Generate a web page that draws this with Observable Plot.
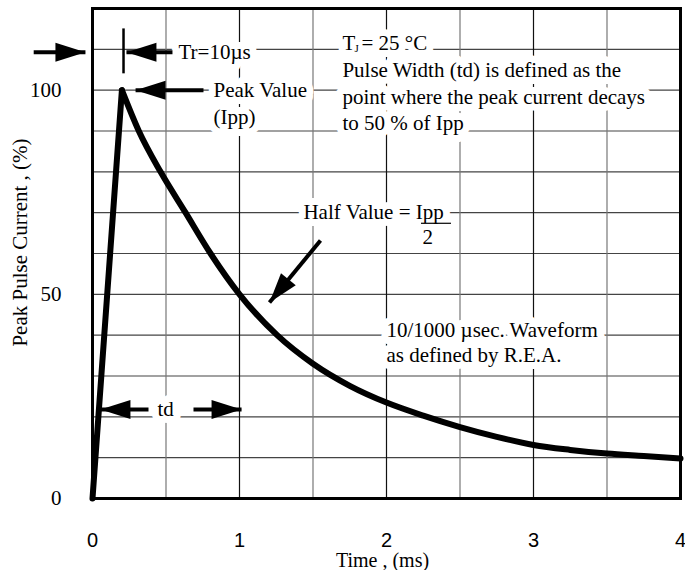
<!DOCTYPE html>
<html>
<head>
<meta charset="utf-8">
<script src="https://cdn.jsdelivr.net/npm/d3@7"></script>
<script src="https://cdn.jsdelivr.net/npm/@observablehq/plot@0.6"></script>
<style>
  html, body { margin: 0; padding: 0; background: #fff; }
</style>
</head>
<body>
<div id="chart"></div>
<script>
// ---- data ----
const riseTime = [0, 0.2];
const riseValue = [0, 100];
const decayTime = [0.2, 0.315, 0.463, 0.633, 0.803, 1.0, 1.256, 1.5, 1.75, 2.0, 2.25, 2.5, 2.75, 3.0, 3.25, 3.5, 3.75, 4.0];
const decayValue = [100, 90, 80, 70, 60, 50, 40, 33.0, 27.6, 23.5, 20.3, 17.5, 15.1, 13.1, 11.9, 11.0, 10.4, 9.8];

const xTicks = [0, 1, 2, 3, 4];
const yTicks = [0, 50, 100];
const xGridMajor = [1, 2, 3];
const xGridMinor = [0.5, 1.5, 2.5, 3.5];
const yGrid = [10, 20, 30, 40, 50, 60, 70, 80, 90, 100, 110];

const xLabel = "Time , (ms)";
const yLabel = "Peak Pulse Current , (%)";

// annotation texts (data coordinates)
const noteText = ["Tr=10µs", "Peak Value", "(Ipp)",
  "Pulse Width (td) is defined as the", "point where the peak current decays", "to 50 % of Ipp",
  "Half Value = Ipp", "10/1000 µsec. Waveform", "as defined by R.E.A."];
const noteX = [0.585, 0.823, 0.823, 1.70, 1.70, 1.70, 1.435, 2.0, 2.0];
const noteY = [109.3, 100, 93.4, 104.9, 98.3, 91.9, 70.1, 41.2, 35.0];
const centerText = ["2", "td"];
const centerX = [2.28, 0.497];
const centerY = [64.0, 21.8];

// arrows: shaft start -> tip, head rotation (deg, 0 = pointing up)
const arrowFromX = [-0.40, 0.544, 0.755, 1.551, 0.381, 0.687];
const arrowFromY = [109.3, 109.3, 100, 63.2, 21.8, 21.8];
const arrowToX = [-0.048, 0.231, 0.293, 1.204, 0.054, 1.014];
const arrowToY = [109.3, 109.3, 100, 48.0, 21.8, 21.8];
const arrowRot = [90, 270, 270, 219, 270, 90];

// ---- build tables ----
const rise = riseTime.map((t, i) => ({t, v: riseValue[i]}));
const decay = decayTime.map((t, i) => ({t, v: decayValue[i]}));
const notes = noteText.map((s, i) => ({s, x: noteX[i], y: noteY[i]}));
const centers = centerText.map((s, i) => ({s, x: centerX[i], y: centerY[i]}));
const arrows = arrowFromX.map((x1, i) => ({x1, y1: arrowFromY[i], x2: arrowToX[i], y2: arrowToY[i], r: arrowRot[i]}));

const headSymbol = {
  draw(ctx) {
    ctx.moveTo(0, 0);
    ctx.lineTo(9.5, 30);
    ctx.lineTo(-9.5, 30);
    ctx.closePath();
  }
};

const serif = "'Liberation Serif', 'Times New Roman', serif";
const sans = "'Liberation Sans', Arial, sans-serif";
const halo = {stroke: "white", strokeWidth: 14, strokeLinejoin: "round", fill: "black", fontFamily: serif, fontSize: 21};

const chart = Plot.plot({
  width: 685,
  height: 570,
  marginLeft: 92,
  marginRight: 5,
  marginTop: 8,
  marginBottom: 72,
  x: {domain: [0, 4]},
  y: {domain: [0, 120]},
  style: {background: "white", color: "black"},
  marks: [
    Plot.ruleY(yGrid, {stroke: "#444", strokeWidth: 1.2}),
    Plot.ruleX(xGridMinor, {stroke: "#777", strokeWidth: 1.2}),
    Plot.ruleX(xGridMajor, {stroke: "#111", strokeWidth: 1.2}),
    Plot.axisX(xTicks, {tickSize: 0, tickPadding: 34, fontSize: 20, fontFamily: sans, tickFormat: d => String(d), label: null}),
    Plot.axisY(yTicks, {tickSize: 0, tickPadding: 31, fontSize: 21, fontFamily: serif, tickFormat: d => String(d), label: null}),
    Plot.text([xLabel], {frameAnchor: "bottom", lineAnchor: "middle", textAnchor: "middle", dy: 62, dx: -4, fontFamily: serif, fontSize: 20, fill: "black"}),
    Plot.text([yLabel], {frameAnchor: "left", lineAnchor: "middle", textAnchor: "middle", rotate: -90, dx: -72, dy: -11, fontFamily: serif, fontSize: 21, fill: "black"}),
    // annotations
    Plot.text(notes, {x: "x", y: "y", text: "s", textAnchor: "start", ...halo}),
    Plot.text(["T"], {x: [1.70], y: [111.5], textAnchor: "start", ...halo}),
    Plot.text(["= 25 °C"], {x: [1.70], y: [111.5], dx: 19, textAnchor: "start", ...halo}),
    Plot.text(["J"], {x: [1.70], y: [111.5], dx: 12, dy: 5, textAnchor: "start", fontFamily: serif, fontSize: 11, fill: "black"}),
    Plot.text(centers, {x: "x", y: "y", text: "s", textAnchor: "middle", ...halo}),
    Plot.ruleY([67.4], {x1: 2.238, x2: 2.442, stroke: "black", strokeWidth: 1.2}),
    Plot.link(arrows, {x1: "x1", y1: "y1", x2: "x2", y2: "y2", stroke: "black", strokeWidth: 4}),
    Plot.dot(arrows, {x: "x2", y: "y2", rotate: "r", symbol: headSymbol, r: 10, fill: "black", stroke: "none"}),
    Plot.ruleX([0.211], {y1: 104, y2: 115, stroke: "black", strokeWidth: 2.5}),
    // waveform
    Plot.line(rise, {x: "t", y: "v", stroke: "black", strokeWidth: 6, strokeLinecap: "round", strokeLinejoin: "round"}),
    Plot.line(decay, {x: "t", y: "v", curve: "monotone-x", stroke: "black", strokeWidth: 6, strokeLinecap: "round", strokeLinejoin: "round"}),
    Plot.frame({stroke: "black", strokeWidth: 3})
  ]
});
document.getElementById("chart").appendChild(chart);
</script>
</body>
</html>
